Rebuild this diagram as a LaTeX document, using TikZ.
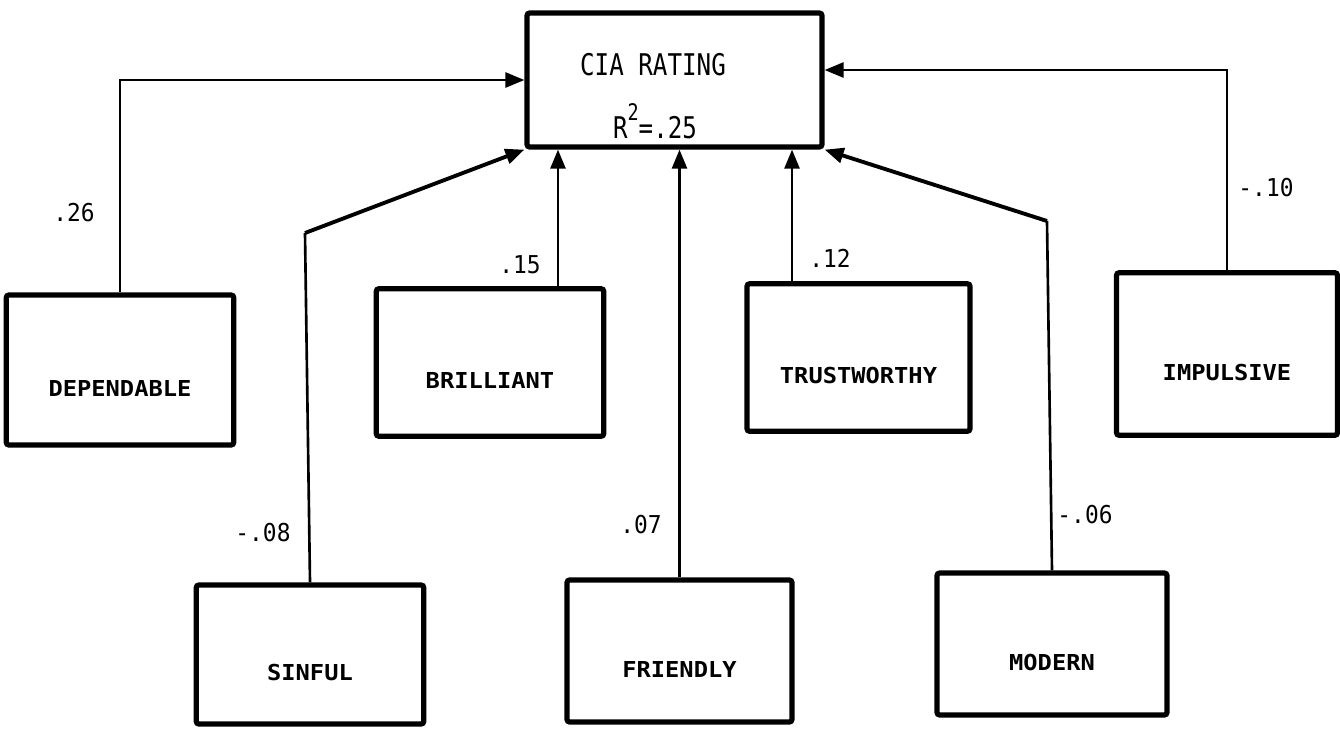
\documentclass[tikz,border=0pt]{standalone}
\usepackage{fontspec}
\newfontfamily\boxfont[FakeStretch=1.08]{DejaVu Sans Mono}
\newfontfamily\ciafont[FakeStretch=0.81]{DejaVu Sans Mono}
\newfontfamily\coeffont[FakeStretch=0.93]{DejaVu Sans Mono}
\usetikzlibrary{arrows.meta,positioning}
\tikzset{
 factor/.style={draw,line width=3pt,rounded corners=1.5pt,minimum width=4.55cm,minimum height=2.95cm,
  inner sep=0pt,text height=1.04cm,text depth=0pt,font=\boxfont\bfseries\fontsize{12.5}{14}\selectfont},
 target/.style={draw,line width=3pt,rounded corners=1.5pt,minimum width=5.9cm,minimum height=2.68cm},
 ciatext/.style={font=\ciafont\fontsize{17}{20}\selectfont,inner sep=0pt},
 coef/.style={font=\coeffont\fontsize{14}{16}\selectfont,inner sep=0pt},
 wire/.style={line width=1.5pt},
 feed/.style={wire,-{Triangle[length=0.38cm,width=0.3cm]}},
 slant/.style={feed,line width=2.2pt}
}
\begin{document}
\begin{tikzpicture}[x=0.02cm,y=-0.02cm]
\useasboundingbox[fill=white] (0,0) rectangle (1340,728);
% dependent variable
\node[target] (cia) at (674.5,80) {};
\node[ciatext] (ciatitle) at (653,65) {CIA RATING};
\node[ciatext] (ciarsq) at (655,121) {R\raisebox{0.62em}{\fontsize{13}{13}\selectfont 2}=.25};
% predictors
\node[factor,minimum height=3cm] (dep) at (120,370) {DEPENDABLE};
\node[factor] (bril) at (490,362.5) {BRILLIANT};
\node[factor,minimum width=4.46cm] (trust) at (858.5,357.5) {TRUSTWORTHY};
\node[factor,minimum width=4.42cm,minimum height=3.25cm] (imp) at (1227,354) {IMPULSIVE};
\node[factor,minimum height=2.78cm] (sinful) at (310,654.5) {SINFUL};
\node[factor,minimum width=4.5cm,minimum height=2.84cm] (friendly) at (679.5,651) {FRIENDLY};
\node[factor,minimum width=4.6cm,minimum height=2.84cm] (modern) at (1052,644) {MODERN};
% paths
\coordinate (impin) at ([yshift=0.2cm]cia.east);
\coordinate (brilout) at ([xshift=1.36cm]bril.north);
\coordinate (trustout) at ([xshift=-1.33cm]trust.north);
\coordinate (sinbend) at (305,233);
\coordinate (modbend) at (1047,221);
\draw[feed] (dep.north) |- (cia.west);
\draw[feed] (imp.north) |- (impin);
\draw[feed] (brilout) -- (brilout |- cia.south);
\draw[feed] (trustout) -- (trustout |- cia.south);
\draw[feed] (friendly.north) -- (friendly.north |- cia.south);
\draw[wire] (sinful.north) -- (sinbend);
\draw[slant] (sinbend) -- (cia.south west);
\draw[wire] (modern.north) -- (modbend);
\draw[slant] (modbend) -- (cia.south east);
% coefficients
\node[coef] (cdep) at (74,213) {.26};
\node[coef] (cbril) at (520,265) {.15};
\node[coef] (ctrust) at (830,258) {.12};
\node[coef] (cimp) at (1266,188) {-.10};
\node[coef] (csinful) at (263,533) {-.08};
\node[coef] (cfriendly) at (641,525) {.07};
\node[coef] (cmodern) at (1085,515) {-.06};
\end{tikzpicture}
\end{document}
